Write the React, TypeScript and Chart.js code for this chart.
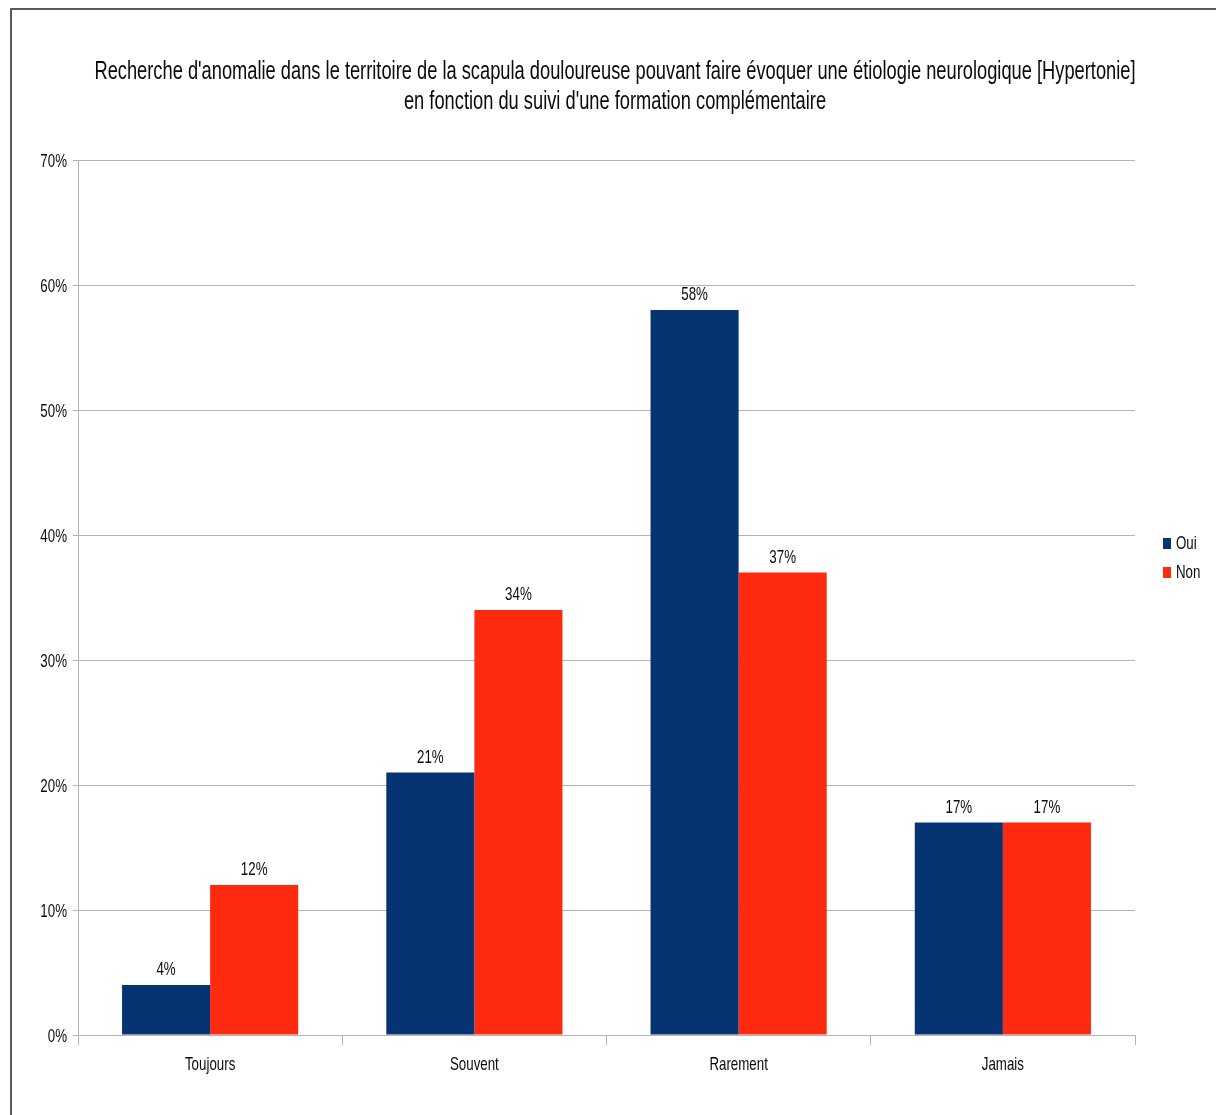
import React, { useEffect, useRef } from "react";
import { Chart, registerables } from "chart.js";

Chart.register(...registerables);

const categories = ["Toujours", "Souvent", "Rarement", "Jamais"];
const seriesNames = ["Oui", "Non"];
const ouiValues = [4, 21, 58, 17];
const nonValues = [12, 34, 37, 17];
const seriesColors = ["#063372", "#fd2a10"];
const titleLines = [
  "Recherche d'anomalie dans le territoire de la scapula douloureuse pouvant faire évoquer une étiologie neurologique [Hypertonie]",
  "en fonction du suivi d'une formation complémentaire",
];
const yMax = 70;
const yStep = 10;

const FONT = "'Liberation Sans', Arial, sans-serif";
const SQUEEZE = 0.72; // horizontal squeeze giving the narrow lettering
const TEXT = "#0a0a0a";
const GRID = "#b3b3b3";
const HIDDEN = "rgba(0,0,0,0)";

function narrowText(
  ctx: CanvasRenderingContext2D,
  text: string,
  x: number,
  y: number,
  size: number,
  align: CanvasTextAlign
) {
  ctx.save();
  ctx.font = `${size}px ${FONT}`;
  ctx.fillStyle = TEXT;
  ctx.textAlign = align;
  ctx.textBaseline = "alphabetic";
  ctx.translate(x, y);
  ctx.scale(SQUEEZE, 1);
  ctx.fillText(text, 0, 0);
  ctx.restore();
}

// Title, axis labels, value labels and legend in narrow lettering
const narrowTexts = {
  id: "narrowTexts",
  afterDraw(chart: any) {
    const { ctx, chartArea, scales } = chart;
    const cx = chart.width / 2 + 2;
    titleLines.forEach((line, i) => narrowText(ctx, line, cx, 71 + i * 30, 25.4, "center"));

    const yScale = scales.y;
    yScale.ticks.forEach((t: any, i: number) => {
      const y = yScale.getPixelForTick(i);
      narrowText(ctx, `${t.value}%`, chartArea.left - 11, y + 7, 18.5, "right");
    });

    const xScale = scales.x;
    categories.forEach((c, i) => {
      const x = xScale.getPixelForTick(i);
      narrowText(ctx, c, x, chartArea.bottom + 35, 18.5, "center");
    });

    chart.data.datasets.forEach((ds: any, di: number) => {
      const meta = chart.getDatasetMeta(di);
      meta.data.forEach((bar: any, i: number) => {
        narrowText(ctx, `${ds.data[i]}%`, bar.x, bar.y - 10, 18.5, "center");
      });
    });

    const lx = chartArea.right + 28;
    chart.data.datasets.forEach((ds: any, i: number) => {
      const base = chartArea.top + 389 + i * 29;
      ctx.save();
      ctx.fillStyle = ds.backgroundColor;
      ctx.fillRect(lx, base - 11, 8, 11);
      ctx.restore();
      narrowText(ctx, ds.label, lx + 13, base, 18.5, "left");
    });
  },
};

export default function App() {
  const canvasRef = useRef<HTMLCanvasElement | null>(null);

  useEffect(() => {
    if (!canvasRef.current) return;
    const chart = new Chart(canvasRef.current, {
      type: "bar",
      data: {
        labels: categories,
        datasets: [
          { label: seriesNames[0], data: ouiValues, backgroundColor: seriesColors[0] },
          { label: seriesNames[1], data: nonValues, backgroundColor: seriesColors[1] },
        ],
      },
      options: {
        responsive: false,
        animation: false,
        layout: { padding: { left: 0, right: 81, top: 152, bottom: 0 } },
        datasets: {
          bar: { categoryPercentage: 176 / 264, barPercentage: 1, borderWidth: 0 },
        },
        plugins: {
          legend: { display: false },
          tooltip: { enabled: false },
          title: { display: false },
        },
        scales: {
          x: {
            offset: true,
            grid: {
              offset: true,
              display: true,
              drawOnChartArea: true,
              color: (c: any) => (c.index === categories.length ? GRID : HIDDEN),
              tickColor: GRID,
              tickLength: 10,
              lineWidth: 1,
            },
            border: { display: true, color: GRID },
            ticks: { color: HIDDEN, font: { family: FONT, size: 16 }, padding: 6 },
            afterFit(scale: any) {
              scale.height = 80;
            },
          },
          y: {
            min: 0,
            max: yMax,
            grid: { color: GRID, tickColor: GRID, tickLength: 5 },
            border: { display: true, color: GRID },
            ticks: {
              stepSize: yStep,
              color: HIDDEN,
              font: { family: FONT, size: 16 },
              padding: 5,
              callback: (v: any) => `${v}%`,
            },
            afterFit(scale: any) {
              scale.width = 68;
            },
          },
        },
      },
      plugins: [narrowTexts],
    });
    return () => chart.destroy();
  }, []);

  return (
    <>
      <div
        style={{
          position: "absolute",
          left: 10,
          top: 8,
          width: 1206,
          height: 1107,
          boxSizing: "border-box",
          borderTop: "2px solid #5a5a5a",
          borderLeft: "2px solid #5a5a5a",
        }}
      />
      <canvas
        ref={canvasRef}
        width={1206}
        height={1107}
        style={{ position: "absolute", left: 10, top: 8, width: 1206, height: 1107 }}
      />
    </>
  );
}
